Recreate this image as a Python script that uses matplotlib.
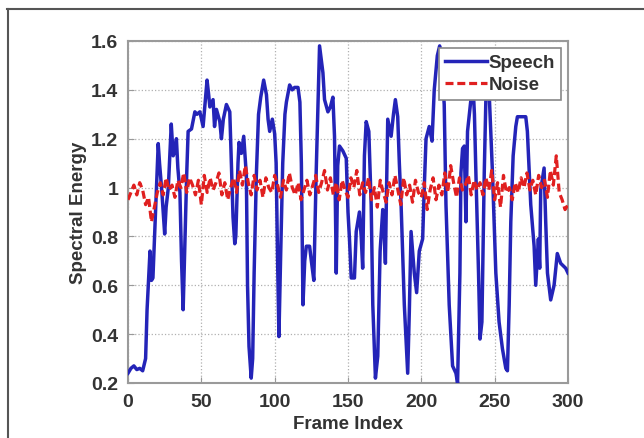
import matplotlib
matplotlib.use("Agg")
import matplotlib.pyplot as plt
from matplotlib.lines import Line2D
from matplotlib.ticker import FuncFormatter

plt.rcParams['font.family'] = ['Liberation Sans', 'DejaVu Sans']
plt.rcParams['font.weight'] = 'bold'

# Speech curve: (frame, energy) points
speech_x = [0, 2, 4, 6, 8, 10, 12, 13, 15, 16, 17, 18, 19.5, 20.6, 21.5, 23, 24, 25, 26, 27.5,
            29.5, 30.8, 32, 33, 34, 35.4, 36.5, 37.6, 38.5, 40, 41, 43.3, 45.6, 47, 49, 51.2,
            53.9, 55, 55.8, 58, 59, 60.3, 62.6, 63.7, 65, 67.1, 69.4, 70.5, 71.6, 72.8, 73.5,
            75, 75.7, 77.3, 78.9, 80.7, 81.5, 82.5, 84, 85, 86, 87.5, 89, 90.5, 92.5, 94.4,
            95.5, 96.6, 98.4, 100, 101, 102, 102.9, 104, 105.5, 107, 108, 110.2, 112, 113.6,
            115.9, 117.2, 118.2, 119.3, 120.5, 121.6, 123.8, 125, 126.7, 128.3, 130.6, 132.9,
            134, 136.3, 138, 139.7, 140.8, 142, 143, 144.2, 146.5, 148.8, 150, 151, 152.2,
            154.4, 155.6, 157.8, 159, 160, 161.2, 162.4, 164.2, 165.8, 166.9, 168.7, 170.3,
            171.9, 173.7, 174.8, 175.5, 176.3, 177.1, 179.4, 181, 182.3, 183.9, 185, 186.2,
            188.4, 190.7, 191.8, 193, 195.2, 196.8, 198.6, 200.9, 202, 203.2, 205.4, 207.3,
            208.8, 210.9, 212.5, 214.5, 215.6, 216.8, 219, 221.3, 223.6, 224.7, 226.3, 227,
            228.1, 229.3, 230.4, 231.5, 233.8, 235, 236.2, 237.2, 239, 240, 241.3, 242.9, 244,
            245, 246.3, 248.5, 250.8, 253, 255.3, 257.6, 258.7, 259.9, 261, 262.6, 264.4,
            265.5, 271.2, 272.3, 274.6, 276.9, 278, 279.8, 280.7, 281.4, 283.7, 284.8, 286,
            288.2, 290.5, 292.7, 295, 298.4, 300]
speech_y = [0.24, 0.26, 0.27, 0.255, 0.26, 0.25, 0.3, 0.5, 0.74, 0.62, 0.63, 0.78, 1.0, 1.18, 1.1,
            0.99, 0.9, 0.81, 0.92, 1.0, 1.26, 1.13, 1.15, 1.2, 1.08, 0.98, 0.7, 0.5, 0.7, 1.05,
            1.23, 1.24, 1.31, 1.3, 1.31, 1.25, 1.44, 1.38, 1.33, 1.36, 1.25, 1.32, 1.27, 1.2,
            1.28, 1.34, 1.31, 1.1, 0.88, 0.77, 0.8, 1.1, 1.185, 1.14, 1.21, 1.05, 0.6, 0.35,
            0.22, 0.3, 0.65, 1.05, 1.3, 1.37, 1.44, 1.38, 1.28, 1.23, 1.28, 1.22, 1.1, 0.7,
            0.39, 0.7, 1.1, 1.3, 1.35, 1.42, 1.4, 1.41, 1.41, 1.35, 1.1, 0.52, 0.7, 0.76, 0.76,
            0.7, 0.62, 1.06, 1.58, 1.47, 1.36, 1.31, 1.33, 1.37, 1.21, 0.65, 1.09, 1.17, 1.15,
            1.12, 0.9, 0.79, 0.63, 0.63, 0.82, 0.9, 0.8, 0.67, 1.13, 1.27, 1.23, 0.93, 0.52,
            0.22, 0.31, 0.74, 0.91, 0.8, 0.69, 1.0, 1.28, 1.21, 1.3, 1.36, 1.29, 1.1, 0.93,
            0.52, 0.24, 0.49, 0.82, 0.65, 0.57, 0.74, 0.79, 1.0, 1.2, 1.25, 1.19, 1.40, 1.54,
            1.58, 1.45, 1.34, 0.93, 0.52, 0.27, 0.24, 0.20, 0.65, 1.06, 1.16, 1.17, 0.86, 1.23,
            1.36, 1.45, 1.3, 1.06, 0.65, 0.38, 0.45, 1.06, 1.36, 1.45, 1.38, 1.06, 0.65, 0.45,
            0.34, 0.26, 0.25, 0.52, 0.86, 1.13, 1.25, 1.29, 1.29, 1.23, 0.93, 0.76, 0.6, 0.79,
            0.67, 0.99, 1.08, 0.86, 0.65, 0.54, 0.6, 0.73, 0.69, 0.67, 0.65]

# Noise curve: one value every 2 frames
noise_x = list(range(0, 301, 2))
noise_y = [0.95, 0.98, 1.01, 0.97, 1.02, 0.99, 0.93, 0.96, 0.86, 0.92, 0.98,
           1.02, 0.97, 1.04, 0.99, 1.01, 0.96, 1.03, 1.00, 1.06, 0.98,
           1.04, 1.01, 0.97, 1.03, 0.93, 1.05, 0.98, 1.04, 0.99, 1.02,
           1.06, 0.97, 1.02, 0.95, 1.00, 1.04, 0.98, 1.07, 1.01, 1.09,
           1.02, 0.97, 1.05, 0.99, 1.03, 0.96, 1.04, 1.00, 0.98, 1.05,
           1.01, 0.96, 1.03, 0.99, 1.06, 1.00, 0.97, 1.02, 0.95, 0.99,
           1.03, 0.97, 1.01, 1.05, 0.98, 1.02, 1.07, 0.99, 1.04, 0.97,
           1.02, 0.95, 1.03, 0.99, 0.96, 1.04, 1.00, 1.07, 0.97, 1.02,
           0.98, 1.04, 0.95, 1.00, 0.92, 1.03, 0.98, 0.94, 1.02, 0.97,
           1.05, 0.99, 0.93, 1.04, 0.97, 1.01, 0.94, 1.03, 0.98, 0.96,
           1.02, 0.91, 0.99, 1.04, 0.95, 1.01, 0.97, 1.06, 0.98, 1.09,
           1.02, 0.96, 1.04, 0.99, 1.01, 1.05, 0.97, 1.03, 0.99, 1.02,
           0.97, 1.04, 0.99, 1.07, 0.95, 1.02, 0.92, 1.05, 0.98, 1.00,
           0.95, 1.02, 0.98, 1.04, 1.00, 1.06, 0.99, 1.03, 0.97, 1.05,
           1.00, 1.03, 0.96, 1.07, 1.01, 1.13, 0.98, 0.95, 0.91, 0.93]

x_ticks = [0, 50, 100, 150, 200, 250, 300]
y_ticks = [0.2, 0.4, 0.6, 0.8, 1.0, 1.2, 1.4, 1.6]

W, H = 644, 439
fig = plt.figure(figsize=(W / 100, H / 100), dpi=100)
ax = fig.add_axes([128 / W, (H - 384) / H, (568 - 128) / W, (384 - 42) / H])

ax.plot(speech_x, speech_y, color='#2424b8', lw=2.5, label='Speech', zorder=3)
ax.plot(noise_x, noise_y, color='#e02020', lw=2.3, ls='--', dashes=(2.5, 1.2),
        label='Noise', zorder=4)

ax.set_xlim(0, 300)
ax.set_ylim(0.2, 1.6)
ax.set_xticks(x_ticks)
ax.set_yticks(y_ticks)
ax.yaxis.set_major_formatter(FuncFormatter(lambda v, p: f"{v:g}"))
ax.grid(True, color='#b0b0b0', ls=':', lw=0.9)
ax.tick_params(direction='in', length=4, color='#999999', labelsize=14,
               labelcolor='#333333', pad=7)
for s in ax.spines.values():
    s.set_color('#9a9a9a')
    s.set_linewidth(1.5)

ax.set_xlabel('Frame Index', fontsize=13.5, fontweight='bold', color='#333333', labelpad=4)
ax.set_ylabel('Spectral Energy', fontsize=13.5, fontweight='bold', color='#333333', labelpad=3)

leg = ax.legend(loc='upper right', fontsize=13.5, handlelength=2.2, handletextpad=0.1,
                borderpad=0.35, labelspacing=0.25, borderaxespad=0.35, fancybox=False,
                framealpha=1)
leg.set_zorder(10)
leg.get_frame().set_edgecolor('#888888')
leg.get_frame().set_linewidth(1.2)
for t in leg.get_texts():
    t.set_color('#333333')

# outer frame of the picture
fig.add_artist(Line2D([7 / W, 1], [(H - 9.5) / H, (H - 9.5) / H], color='#555555', lw=1.5))
fig.add_artist(Line2D([7.5 / W, 7.5 / W], [0, (H - 9.5) / H], color='#555555', lw=1.5))

fig.savefig('out.png', dpi=100)
